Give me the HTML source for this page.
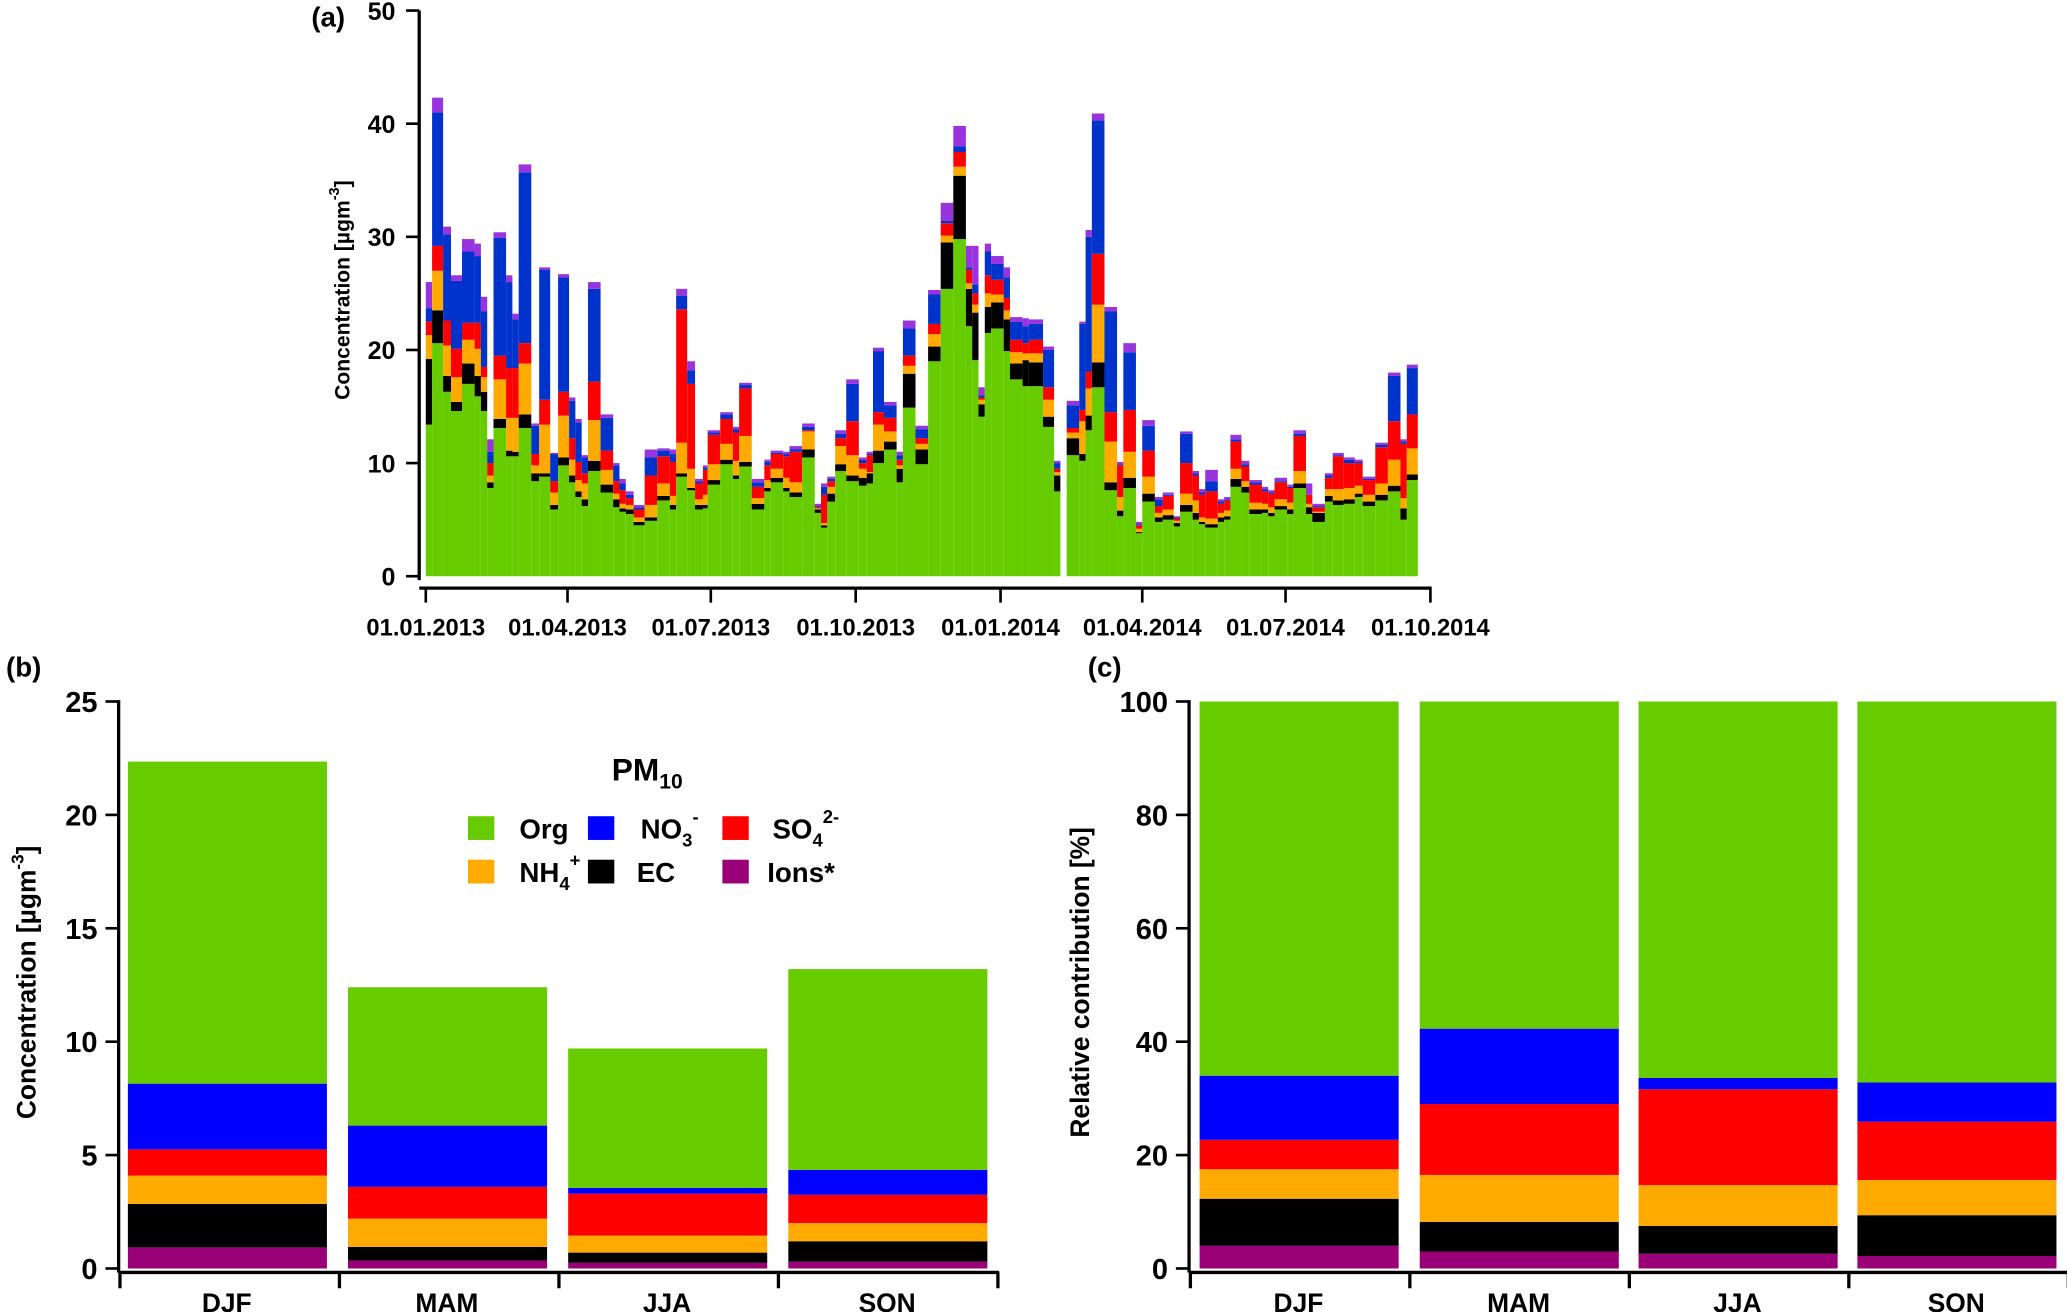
<!DOCTYPE html>
<html><head><meta charset="utf-8"><style>
html,body{margin:0;padding:0;background:#fff;}
svg{display:block;}
text{font-family:"Liberation Sans",Arial,sans-serif;font-weight:bold;fill:#000;}
.n{font-family:"Liberation Sans Narrow","Liberation Sans",sans-serif;}
</style></head><body>
<svg id="fig" width="2067" height="1312" viewBox="0 0 1568 995" preserveAspectRatio="none" xmlns="http://www.w3.org/2000/svg">
<g id="pa"></g>
<g id="pb"></g>
<g id="pc"></g>
<g id="legend">
<text x="491" y="592" font-size="24" text-anchor="middle">PM<tspan font-size="16" dy="6">10</tspan></text>
<rect x="355" y="619" width="20" height="18" fill="#66cc00"/>
<text x="394" y="636" font-size="21" class="n">Org</text>
<rect x="446" y="619" width="20" height="18" fill="#0000ff"/>
<text x="486" y="636" font-size="21" class="n">NO<tspan font-size="14" dy="6">3</tspan><tspan font-size="14" dy="-18">-</tspan></text>
<rect x="548" y="619" width="20" height="18" fill="#ff0000"/>
<text x="586" y="636" font-size="21" class="n">SO<tspan font-size="14" dy="6">4</tspan><tspan font-size="14" dy="-18">2-</tspan></text>
<rect x="355" y="652" width="20" height="18" fill="#ffaa00"/>
<text x="394" y="669" font-size="21" class="n">NH<tspan font-size="14" dy="6">4</tspan><tspan font-size="14" dy="-18">+</tspan></text>
<rect x="446" y="652" width="20" height="18" fill="#000"/>
<text x="483" y="669" font-size="21" class="n">EC</text>
<rect x="548" y="652" width="20" height="18" fill="#990077"/>
<text x="582" y="669" font-size="21" class="n">Ions*</text>
</g>
</svg>
<script>
// ---- Panel (a) time series: start day (since 01.01.2013) and cumulative stack tops ----
const startDay=[0,4,11,16,23,31,35,39,43,51,55,59,67,72,79,84,91,95,99,103,111,119,123,127,132,139,147,155,159,166,171,176,179,187,195,199,207,215,219,227,231,239,247,251,255,260,267,275,280,284,291,299,303,311,319,327,335,343,347,351,355,359,367,371,379,383,392,399,407,415,419,423,431,439,443,451,455,463,468,475,479,487,491,495,503,507,511,518,523,531,535,539,547,551,559,563,571,576,583,590,595,603,611,619,623];
const endDayLast=630, gapEndIndex=67, gapEndDay=403;
const orgTop=[13.4,20.6,16.3,14.6,17,15.9,14.6,7.8,13.1,10.6,10.6,13.1,8.4,8.8,5.9,9.8,8.3,7.0,6.2,9.3,7.4,6.1,5.7,5.5,4.5,4.9,6.7,5.9,8.8,7.6,5.9,6.0,8.1,9.9,8.6,9.7,5.9,7.5,8.3,7.5,7.0,10.5,5.6,4.3,6.6,9.3,8.4,8.0,8.2,10.0,11.2,8.3,14.9,9.9,19.0,25.4,29.8,22.1,19.1,14.1,21.5,21.9,19.9,17.4,16.8,16.8,13.2,7.5,10.7,10.2,12.9,16.7,7.6,5.3,7.8,3.8,6.6,4.8,5.0,4.4,5.7,5.0,4.6,4.3,4.8,5.0,7.9,7.4,5.5,5.6,5.3,5.9,5.5,7.8,5.5,4.8,6.6,6.3,6.4,7.0,6.2,6.7,7.5,5.0,8.5];
const ecTop=[19.2,23.5,17.7,15.4,18.8,17.7,16.3,8.3,13.9,11.1,11.0,14.3,9.1,9.1,6.3,10.5,8.9,7.5,6.8,10.2,8.1,6.8,6.0,5.9,4.8,5.2,7.1,6.3,9.1,7.8,6.3,6.3,8.5,10.3,8.9,10.1,6.4,7.8,8.7,7.8,7.4,11.2,5.9,4.5,7.3,9.9,8.9,8.7,9.1,11.1,11.9,9.5,17.9,11.2,20.3,29.5,35.4,25.4,23.3,15.2,23.8,24.2,22.7,18.8,19.1,18.9,14.1,8.9,12.2,10.8,14.2,18.9,8.3,5.8,8.7,3.9,7.3,5.2,5.4,4.7,6.3,5.6,4.8,4.6,5.2,5.3,8.6,7.9,5.9,5.9,5.6,6.2,5.9,8.2,6.1,5.6,7.1,6.7,6.8,7.3,6.6,7.2,8.0,6.0,9.0];
const nh4Top=[21.3,27,20.4,17.6,20.9,20.1,17.6,8.9,17.4,14,14,18.8,9.8,13.4,7.4,14.2,10.3,8.5,8.2,13.8,9.4,7.3,6.4,6.3,5.2,6.3,8.2,7.1,11.8,9.5,6.8,7.2,9.9,11.7,10.2,12.4,6.9,8.5,9.5,8.7,8.3,12.8,6.0,4.7,7.9,11.5,10.7,9.5,9.2,13.4,12.8,9.8,18.6,11.7,21.4,30.1,36.2,25.9,24.0,15.6,25.0,24.9,23.5,19.8,19.7,19.7,15.6,9.2,12.7,13.7,16.6,24.0,11.9,7.0,11.0,4.2,8.8,5.6,5.9,4.9,7.3,6.7,5.2,5.1,5.6,5.8,9.5,8.4,6.5,6.4,6.1,6.8,6.5,9.3,6.4,5.7,7.7,7.7,7.8,8.0,7.2,8.2,10.3,6.9,11.3];
const so4Top=[22.5,29.2,22.6,20.1,22.4,22.4,18.5,10,19.5,18.4,18.4,20.6,10.8,15.6,8.4,16.3,12.2,10.1,9.1,17.2,11.1,8.4,7.6,6.9,5.9,8.9,10.6,10.1,23.6,17,8.2,9.4,12.5,13.9,12.7,16.6,7.9,9.8,10.8,10.6,11.0,12.9,6.1,7.2,8.4,12.2,13.7,10.0,10.7,14.5,14.0,10.3,19.5,12.2,22.3,31.2,37.5,27.1,25.0,15.8,26.6,26.2,24.6,20.9,20.6,20.9,16.7,9.5,13.1,14.7,18.1,28.5,14.5,9.8,14.7,4.5,11.1,6.2,7.1,5.1,10.0,8.9,7.2,7.5,6.4,6.7,11.9,9.7,8.1,7.5,7.3,8.3,7.8,12.4,7.2,6.1,8.7,10.6,10.0,10.0,8.5,11.4,13.7,11.7,14.3];
const no3Top=[23.7,41,30.2,26.1,28.7,28.3,23.4,11,29.9,26,22.7,35.7,13.3,27.1,10.8,26.4,15.5,13.6,10.5,25.4,14.0,9.8,8.2,7.2,6.1,10.5,11.1,10.8,24.8,18.2,8.4,9.6,12.7,14.3,13.0,16.9,8.3,10.1,10.9,10.8,11.2,13.2,6.2,7.9,8.6,12.6,17.0,10.3,10.8,19.9,15.1,10.7,21.9,13.0,24.9,31.4,38.0,27.3,25.8,16.0,28.7,27.6,26.4,22.5,22.1,22.3,20.0,10.0,15.1,22.3,30.0,40.3,23.4,9.9,19.8,4.6,13.3,6.8,7.2,5.2,12.6,9.1,7.4,8.4,6.6,6.8,12.1,9.9,8.3,7.7,7.4,8.4,7.9,12.6,7.2,6.2,8.9,10.7,10.3,10.1,8.6,11.6,17.7,11.9,18.4];
const ionsTop=[26,42.3,30.9,26.6,29.8,29.4,24.7,12.1,30.4,26.6,23.2,36.4,13.5,27.3,10.9,26.7,15.8,13.9,10.7,26,14.3,10,8.6,7.5,6.3,11.2,11.3,11.2,25.4,19,8.6,9.8,12.9,14.5,13.2,17.1,8.6,10.3,11.1,11,11.5,13.5,6.4,8.2,8.8,12.9,17.4,10.5,11.0,20.2,15.4,11.0,22.6,13.3,25.3,33.0,39.8,29.2,29.2,16.7,29.4,28.3,27.3,22.9,22.8,22.7,20.3,10.2,15.5,22.5,30.6,40.9,23.8,10.1,20.6,4.8,13.8,7.0,7.4,5.3,12.8,9.3,7.7,9.4,6.8,7.0,12.5,10.2,8.5,7.9,7.6,8.7,8.1,12.9,8.2,6.4,9.1,10.9,10.5,10.3,8.8,11.8,18.0,12.1,18.7];
const aYTicks=[0,10,20,30,40,50];
const aXTickDays=[0,90,181,273,365,455,546,638];
const aXTickLabels=["01.01.2013","01.04.2013","01.07.2013","01.10.2013","01.01.2014","01.04.2014","01.07.2014","01.10.2014"];

// ---- Panels (b),(c) seasonal stacks (cumulative tops) ----
const seasons=["DJF","MAM","JJA","SON"];
const bIons=[0.93,0.35,0.25,0.3], bEC=[2.85,0.95,0.7,1.2], bNH4=[4.1,2.2,1.45,2.0], bSO4=[5.25,3.6,3.3,3.25], bNO3=[8.15,6.3,3.55,4.35], bOrg=[22.35,12.4,9.7,13.2];
const cIons=[4,3,2.6,2.2], cEC=[12.3,8.2,7.5,9.4], cNH4=[17.5,16.5,14.7,15.6], cSO4=[22.7,29,31.6,25.9], cNO3=[34,42.3,33.6,32.8], cOrg=[100,100,100,100];
const bYTicks=[0,5,10,15,20,25], cYTicks=[0,20,40,60,80,100];

const NS="http://www.w3.org/2000/svg";
function mk(parent,tag,attrs,txt){const e=document.createElementNS(NS,tag);for(const k in attrs)e.setAttribute(k,attrs[k]);if(txt!==undefined)e.textContent=txt;parent.appendChild(e);return e;}

// Panel a
(function(){
 const g=document.getElementById('pa');
 const ay=v=>437-v*8.58, ax=d=>323+d*1.1945;
 const aCols=["#66cc00","#000000","#ffaa00","#ff0000","#0033cc","#9933dd"];
 const layers=[orgTop,ecTop,nh4Top,so4Top,no3Top,ionsTop];
 const names=["org","ec","nh4","so4","no3","ions"];
 for(let i=0;i<startDay.length;i++){
  const e=(i===gapEndIndex)?gapEndDay:(i+1<startDay.length?startDay[i+1]:endDayLast);
  const x0=ax(startDay[i]),x1=ax(e);
  let prev=0;
  for(let L=0;L<6;L++){
   const top=Math.max(layers[L][i],prev);
   const r=mk(g,'rect',{x:x0,y:ay(top),width:Math.max(x1-x0,0.5),height:Math.max(ay(prev)-ay(top),0),fill:aCols[L]});
   
   
   prev=top;
  }
 }
 let l=mk(g,'path',{d:'M318,8 V440',stroke:'#000','stroke-width':2.5,fill:'none'});
 
 l=mk(g,'path',{d:'M318,446 H1086',stroke:'#000','stroke-width':2.5,fill:'none'});
 
 aYTicks.forEach(v=>{mk(g,'path',{d:`M308,${ay(v)} H318`,stroke:'#000','stroke-width':2});
  const t=mk(g,'text',{x:300,y:ay(v)+7,'font-size':19,'text-anchor':'end',class:'n'},v);
  });
 aXTickDays.forEach((d,i)=>{mk(g,'path',{d:`M${ax(d)},446 V457`,stroke:'#000','stroke-width':2});
  const t=mk(g,'text',{x:ax(d),y:482,'font-size':18,'text-anchor':'middle'},aXTickLabels[i]);
  });
 let t=mk(g,'text',{x:249,y:20,'font-size':21,'text-anchor':'middle'},'(a)');
 
 t=mk(g,'text',{x:0,y:0,'font-size':16,'text-anchor':'middle',transform:'translate(265,220) rotate(-90)'});
 t.innerHTML='Concentration [µgm<tspan dy="-8" font-size="11">-3</tspan><tspan dy="8">]</tspan>';
 
})();

function stackPanel(id,axX,x0s,tops,ticks,max,lbl,lblX,title,titleHTML){
 const g=document.getElementById(id);
 const y=v=>962-v*(430/max);
 const cols=["#990077","#000000","#ffaa00","#ff0000","#0000ff","#66cc00"];
 const names=["ions","ec","nh4","so4","no3","org"];
 seasons.forEach((s,i)=>{let prev=0;
  for(let L=0;L<6;L++){const top=tops[L][i];
   const r=mk(g,'rect',{x:x0s[i],y:y(top),width:151,height:y(prev)-y(top),fill:cols[L]});
   
   prev=top;}
  const t=mk(g,'text',{x:x0s[i]+75,y:995,'font-size':20,'text-anchor':'middle',class:'n'},s);
  
  mk(g,'path',{d:`M${axX+1+i*166.5},965 V977`,stroke:'#000','stroke-width':2.5});
 });
 mk(g,'path',{d:`M${axX+667},965 V977`,stroke:'#000','stroke-width':2.5});
 let l=mk(g,'path',{d:`M${axX},531 V965`,stroke:'#000','stroke-width':2.5,fill:'none'});
 
 l=mk(g,'path',{d:`M${axX},965 H${axX+668}`,stroke:'#000','stroke-width':2.5,fill:'none'});
 
 ticks.forEach(v=>{mk(g,'path',{d:`M${axX-10},${y(v)} H${axX}`,stroke:'#000','stroke-width':2});
  const t=mk(g,'text',{x:axX-16,y:y(v)+8,'font-size':22,'text-anchor':'end',class:'n'},v);
  });
 let t=mk(g,'text',{x:lblX,y:513,'font-size':21,'text-anchor':'middle'},lbl);
 
 t=mk(g,'text',{x:0,y:0,'font-size':20,'text-anchor':'middle',transform:`translate(${title},745) rotate(-90)`});
 t.innerHTML=titleHTML;
 
}
stackPanel('pb',90,[97,264,431,598],[bIons,bEC,bNH4,bSO4,bNO3,bOrg],bYTicks,25,'(b)',18,27,'Concentration [µgm<tspan dy="-9" font-size="13">-3</tspan><tspan dy="9">]</tspan>');
stackPanel('pc',902,[910,1077,1243,1409],[cIons,cEC,cNH4,cSO4,cNO3,cOrg],cYTicks,100,'(c)',838,826,'Relative contribution [%]');
</script>
</body></html>
